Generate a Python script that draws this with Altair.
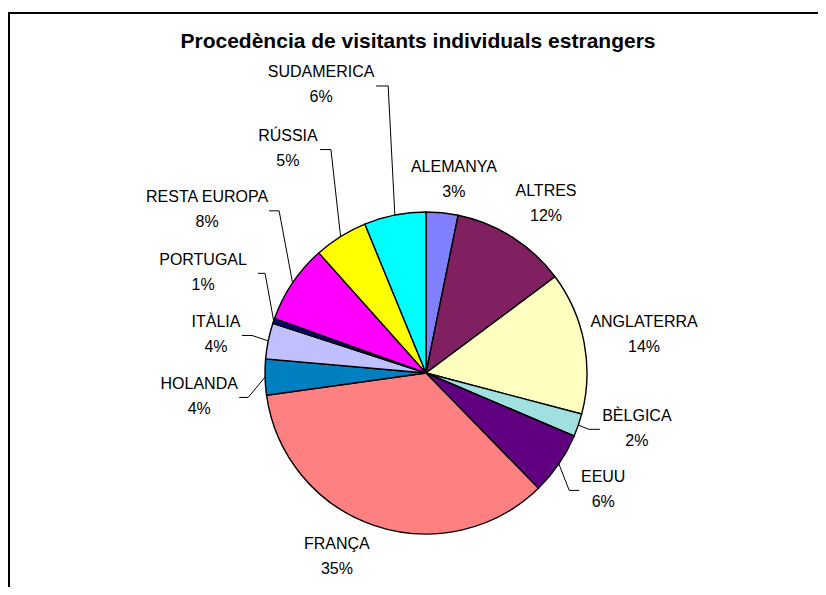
import math
import altair as alt
import pandas as pd

# ---- data ----
names = ["ALEMANYA", "ALTRES", "ANGLATERRA", "BÈLGICA", "EEUU", "FRANÇA",
         "HOLANDA", "ITÀLIA", "PORTUGAL", "RESTA EUROPA", "RÚSSIA", "SUDAMERICA"]
shares = [3.2, 11.6, 14.3, 2.3, 6.3, 35.1, 3.6, 3.6, 0.5, 7.9, 5.4, 6.2]
pct_labels = ["3%", "12%", "14%", "2%", "6%", "35%", "4%", "4%", "1%", "8%", "5%", "6%"]
title_text = "Procedència de visitants individuals estrangers"

# ---- style / layout ----
colors = ["#8080FF", "#802060", "#FFFFC0", "#A0E0E0", "#600080", "#FF8080",
          "#0080C0", "#C0C0FF", "#000080", "#FF00FF", "#FFFF00", "#00FFFF"]
label_angle = [8.2, 35.3, 80.0, 104.7, 123.3, 205.9, 264.1, 280.4, 294.3, 306.7, 328.4, 340.0]
label_radius = [195.5, 207.7, 221.4, 218, 212, 204, 228, 213.5, 244.6, 273, 263.5, 306.5]
leader_start = [None, None, None, -37, -24, None, 40, 26, 55, 62, 32, 55]
leader_elbow = [None, None, None, -48, -34, None, 49, 36, 62, 72, 43, 67]

W, H = 810, 579
CX, CY, R = 418, 365, 161
FONT = "Arial, Liberation Sans"

total = sum(shares)
rows, lines = [], []
cum = 0.0
for i, (n, v) in enumerate(zip(names, shares)):
    mid = (cum + v / 2) / total * 2 * math.pi
    cum += v
    a = math.radians(label_angle[i])
    lx = CX + label_radius[i] * math.sin(a)
    ly = CY - label_radius[i] * math.cos(a)
    rows.append({"idx": i, "name": n, "value": v, "pct": pct_labels[i], "lx": lx, "ly": ly})
    if leader_start[i] is not None:
        ex = CX + R * math.sin(mid)
        ey = CY - R * math.cos(mid)
        pts = [(lx + leader_start[i], ly + 1), (lx + leader_elbow[i], ly + 1), (ex, ey)]
        for k, (px, py) in enumerate(pts):
            lines.append({"name": n, "k": k, "px": px, "py": py})

df = pd.DataFrame(rows)
ldf = pd.DataFrame(lines)

pie = alt.Chart(df).mark_arc(outerRadius=R, stroke="black", strokeWidth=1.4).encode(
    theta=alt.Theta("value:Q", stack=True),
    color=alt.Color("name:N", scale=alt.Scale(domain=names, range=colors), legend=None),
    order=alt.Order("idx:Q"),
    x=alt.value(CX), y=alt.value(CY),
)

leaders = alt.Chart(ldf).mark_line(color="black", strokeWidth=1).encode(
    x=alt.X("px:Q", scale=None, axis=None),
    y=alt.Y("py:Q", scale=None, axis=None),
    detail="name:N",
    order="k:Q",
)

name_txt = alt.Chart(df).mark_text(font=FONT, fontSize=16, dy=-12.5, baseline="middle",
                                   align="center", color="black").encode(
    x=alt.X("lx:Q", scale=None, axis=None),
    y=alt.Y("ly:Q", scale=None, axis=None),
    text="name:N",
)
pct_txt = alt.Chart(df).mark_text(font=FONT, fontSize=16, dy=12.5, baseline="middle",
                                  align="center", color="black").encode(
    x=alt.X("lx:Q", scale=None, axis=None),
    y=alt.Y("ly:Q", scale=None, axis=None),
    text="pct:N",
)

one = alt.Data(values=[{"t": title_text}])
title = alt.Chart(one).mark_text(font=FONT, fontSize=21, fontWeight="bold",
                                 baseline="alphabetic", align="center", color="black").encode(
    x=alt.value(410), y=alt.value(40), text="t:N")

frame_top = alt.Chart(one).mark_rule(color="black", strokeWidth=2).encode(
    x=alt.value(0), x2=alt.value(W), y=alt.value(5))
frame_left = alt.Chart(one).mark_rule(color="black", strokeWidth=2).encode(
    x=alt.value(1), y=alt.value(4), y2=alt.value(H))

chart = alt.layer(frame_top, frame_left, pie, leaders, name_txt, pct_txt, title).properties(
    width=W, height=H, padding=0, autosize=alt.AutoSizeParams(type="none"),
    background="white",
).configure_view(stroke=None)

chart.save("out.html", embed_options={"renderer": "svg", "actions": False})
